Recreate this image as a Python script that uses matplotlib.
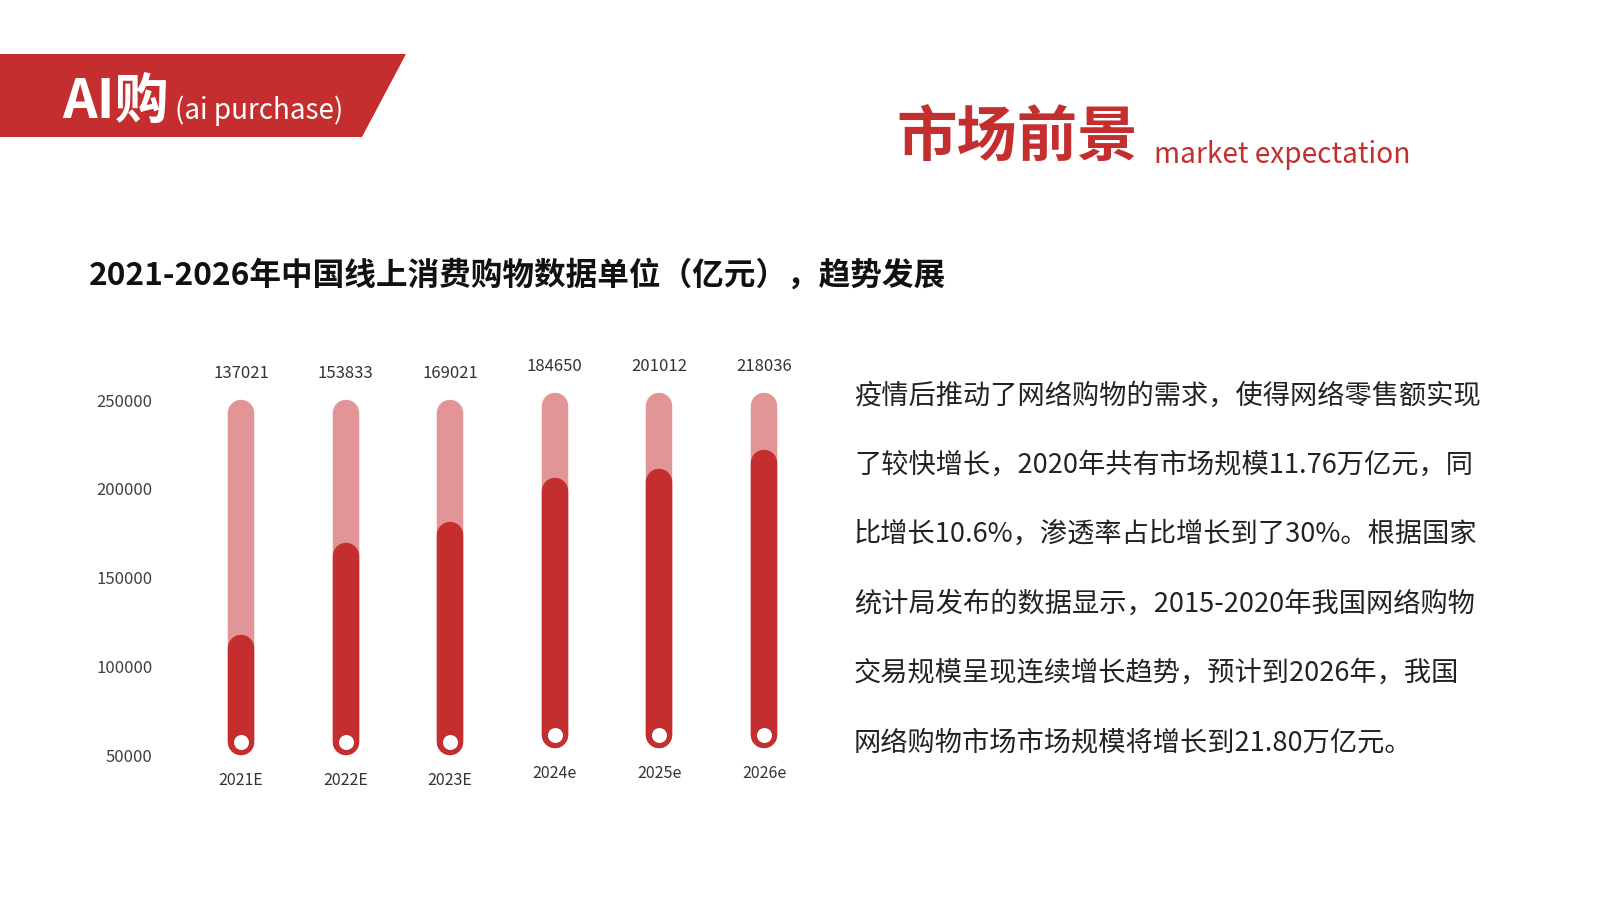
import numpy as np
import matplotlib
matplotlib.use('Agg')
import matplotlib.pyplot as plt
from matplotlib.patches import Polygon

plt.rcParams['font.family'] = ['Noto Sans CJK SC', 'DejaVu Sans']

# data
years = ['2021E', '2022E', '2023E', '2024e', '2025e', '2026e']
values = [137021, 153833, 169021, 184650, 201012, 218036]
# dark fill level of each tube
fill_level = [117800, 169500, 181600, 206300, 211500, 221800]
track_min, track_max = 50000, 250000
lift = [0, 0, 0, 4000, 4000, 4000]   # last three tubes sit slightly higher
yticks = [50000, 100000, 150000, 200000, 250000]

paragraph = [
    '疫情后推动了网络购物的需求，使得网络零售额实现',
    '了较快增长，2020年共有市场规模11.76万亿元，同',
    '比增长10.6%，渗透率占比增长到了30%。根据国家',
    '统计局发布的数据显示，2015-2020年我国网络购物',
    '交易规模呈现连续增长趋势，预计到2026年，我国',
    '网络购物市场市场规模将增长到21.80万亿元。',
]

RED = '#C42E2E'
PINK = '#E29597'
W, H = 1600, 899

fig = plt.figure(figsize=(W / 100, H / 100), dpi=100)
fig.patch.set_facecolor('white')

# slide decoration in pixel coords
bg = fig.add_axes([0, 0, 1, 1])
bg.set_xlim(0, W)
bg.set_ylim(H, 0)
bg.axis('off')

bg.add_patch(Polygon([(0, 54), (406, 54), (362, 137), (0, 137)], closed=True,
                     facecolor=RED, edgecolor='none'))
bg.text(62, 102, 'AI购', color='white', fontsize=39, fontweight='bold',
        ha='left', va='center')
bg.text(175, 111, '(ai purchase)', color='white', fontsize=20,
        ha='left', va='center')

bg.text(896, 138, '市场前景', color=RED, fontsize=43.5, fontweight='bold',
        ha='left', va='center')
bg.text(1154, 155, 'market expectation', color=RED, fontsize=20.2,
        ha='left', va='center')

bg.text(89, 276, '2021-2026年中国线上消费购物数据单位（亿元），趋势发展',
        color='#111111', fontsize=22.8, fontweight='bold', ha='left', va='center')

for k, line in enumerate(paragraph):
    bg.text(854, 396 + k * 69.3, line, color='#222222', fontsize=19.6,
            ha='left', va='center')

# chart
px_left, px_right, px_top, px_bottom = 165, 830, 330, 800
ax = fig.add_axes([px_left / W, (H - px_bottom) / H,
                   (px_right - px_left) / W, (px_bottom - px_top) / H])
ax.set_zorder(2)
ax.patch.set_alpha(0)

x0_px, step_px = 241, 104.6
ax.set_xlim((px_left - x0_px) / step_px, (px_right - x0_px) / step_px)
per_px = (track_max - track_min) / 355.0
ax.set_ylim(track_min - (px_bottom - 755) * per_px,
            track_max + (400 - px_top) * per_px)

bar_px = 26.5
lw = bar_px * 72 / 100
r = bar_px / 2 * per_px

x = np.arange(len(years))
for i in x:
    lo = track_min + lift[i]
    hi = track_max + lift[i]
    ax.plot([i, i], [lo + r, hi - r], color=PINK, lw=lw,
            solid_capstyle='round', zorder=2)
    ax.plot([i, i], [lo + r, fill_level[i] - r], color=RED, lw=lw,
            solid_capstyle='round', zorder=3)
    ax.plot(i, lo + r, 'o', color='white', markersize=15 * 72 / 100,
            markeredgewidth=0, zorder=4)
    ax.text(i, hi + 14800, f'{values[i]}', ha='center', va='center',
            fontsize=12, color='#333333')
    ax.text(i, lo - 14600, years[i], ha='center', va='center',
            fontsize=11.5, color='#333333')

ax.set_yticks(yticks)
ax.set_yticklabels([str(v) for v in yticks], fontsize=12, color='#404040')
ax.set_xticks([])
ax.tick_params(axis='y', length=0, pad=9)
for s in ax.spines.values():
    s.set_visible(False)

plt.savefig('out.png', dpi=100)
